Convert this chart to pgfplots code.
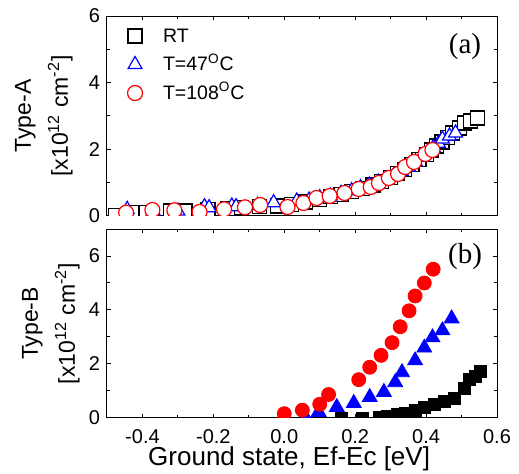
\documentclass[border=0pt]{standalone}
\usepackage{fontspec}
\setmainfont{Liberation Sans}
\newfontfamily\timesfont{Liberation Serif}
\usepackage{pgfplots}
\pgfplotsset{compat=1.18}

\begin{document}
\begin{tikzpicture}
\useasboundingbox (0,0) rectangle (259.5pt,-237pt);
\pgfplotsset{
  common/.style={
    scale only axis, width=195pt,
    xmin=-0.5, xmax=0.6,
    xtick={-0.4,-0.2,0,0.2,0.4,0.6},
    minor xtick={-0.3,-0.1,0.1,0.3,0.5},
    ytick={0,2,4,6}, minor ytick={1,3,5},
    tick align=inside, major tick length=2.2pt, minor tick length=1.3pt,
    axis line style={line width=0.5pt},
    every tick/.append style={black, line width=0.5pt},
    /pgf/number format/assume math mode=true,
    tick label style={font=\fontsize{10}{12}\selectfont},
    clip marker paths=true,
    ylabel style={anchor=south, inner sep=0pt, align=center,
      font=\fontsize{11.5}{18.5}\selectfont},
  },
}
% ---------------- top panel ----------------
\begin{axis}[common,
  at={(53.5pt,-108pt)}, anchor=south west, height=100pt,
  ymin=0, ymax=6,
  xticklabel=\empty,
  ylabel={Type-A\\{[}x10\textsuperscript{12} cm\textsuperscript{-2}{]}},
  ylabel style={at={(axis description cs:-0.087,0.5)}},
  legend cell align=left,
  legend image code/.code={\path[draw=none, fill=none] (0pt,0pt) -- (21pt,0pt);\draw[#1] plot coordinates {(7pt,0pt)};},
  legend style={draw=none, fill=none, inner sep=0pt, outer sep=0pt,
    at={(axis description cs:0.036,0.95)}, anchor=north west,
    row sep=4.25pt, column sep=0pt,
    nodes={inner sep=0pt, text height=8pt, text depth=2pt},
    font=\fontsize{9.75}{11}\selectfont},
]
\addplot[only marks, mark=square*, mark size=3.5pt, mark options={draw=black, fill=white, line width=0.6pt}] coordinates {
(-0.477,0.02) (-0.425,0.10) (-0.39,0.10) (-0.32,0.15) (-0.28,0.15) (-0.215,0.20)
(-0.16,0.22) (-0.12,0.25) (-0.07,0.28) (-0.02,0.30) (0.02,0.35) (0.06,0.42)
(0.10,0.50) (0.13,0.58) (0.16,0.65) (0.19,0.74) (0.22,0.83) (0.25,0.93)
(0.275,1.04) (0.30,1.15) (0.32,1.28) (0.34,1.40) (0.36,1.55) (0.38,1.70)
(0.40,1.85) (0.415,1.98) (0.43,2.10) (0.445,2.22) (0.46,2.35) (0.474,2.49)
(0.494,2.64) (0.509,2.79) (0.526,2.85) (0.545,2.94)
};
\addlegendentry{RT}
\addplot[only marks, mark=triangle*, mark size=4pt, mark options={draw=blue, fill=white, line width=0.6pt}] coordinates {
(-0.443,0.20) (-0.37,0.15) (-0.30,0.15) (-0.225,0.28) (-0.212,0.25) (-0.148,0.30)
(-0.136,0.28) (-0.075,0.32) (-0.03,0.40) (0.035,0.45) (0.07,0.48) (0.10,0.55)
(0.13,0.60) (0.16,0.68) (0.19,0.76) (0.215,0.85) (0.24,0.93) (0.265,1.02)
(0.29,1.12) (0.31,1.22) (0.33,1.34) (0.35,1.47) (0.37,1.62) (0.39,1.78)
(0.405,1.92) (0.42,2.05) (0.435,2.18) (0.446,2.31) (0.466,2.40) (0.483,2.49)
};
\addlegendentry{T=47\textsuperscript{O}C}
\addplot[only marks, mark=*, mark size=3.75pt, mark options={draw=red, fill=white, line width=0.6pt}] coordinates {
(-0.446,0.10) (-0.372,0.18) (-0.31,0.17) (-0.239,0.12) (-0.17,0.20) (-0.111,0.26)
(-0.068,0.33) (0.009,0.27) (0.054,0.39) (0.091,0.54) (0.128,0.60) (0.170,0.69)
(0.210,0.81) (0.244,0.87) (0.267,0.99) (0.295,1.14) (0.321,1.26) (0.341,1.47)
(0.366,1.62) (0.398,1.86) (0.418,1.98)
};
\addlegendentry{T=108\textsuperscript{O}C}
\node[font=\timesfont\fontsize{14.5}{16}\selectfont, inner sep=0pt] at (axis description cs:0.918,0.845) {(a)};
\end{axis}
% ---------------- bottom panel ----------------
\begin{axis}[common,
  at={(53.5pt,-209pt)}, anchor=south west, height=94.5pt,
  ymin=0, ymax=7,
  xticklabel style={/pgf/number format/fixed, /pgf/number format/fixed zerofill, /pgf/number format/precision=1, yshift=-2pt},
  xlabel={Ground state, Ef-Ec [eV]},
  xlabel style={at={(axis description cs:0.467,-0.249)}, anchor=base, inner sep=0pt,
    font=\fontsize{13}{15}\selectfont},
  ylabel={Type-B\\{[}x10\textsuperscript{12} cm\textsuperscript{-2}{]}},
  ylabel style={at={(axis description cs:-0.069,0.5)}},
]
\addplot[only marks, mark=square*, mark size=3pt, mark options={draw=black, fill=black}] coordinates {
(0.162,0.0) (0.219,0.0) (0.267,0.04) (0.290,0.07) (0.318,0.15) (0.341,0.18)
(0.369,0.29) (0.395,0.40) (0.423,0.51) (0.452,0.62) (0.480,0.74) (0.508,1.10)
(0.523,1.43) (0.540,1.55) (0.553,1.72)
};
\addplot[only marks, mark=triangle*, mark size=4.3pt, mark options={draw=blue, fill=blue}] coordinates {
(0.06,0.02) (0.097,0.22) (0.148,0.40) (0.196,0.55) (0.241,0.77) (0.281,0.96)
(0.313,1.32) (0.332,1.69) (0.369,2.13) (0.395,2.60) (0.418,2.98) (0.446,3.24)
(0.472,3.68)
};
\addplot[only marks, mark=*, mark size=3.5pt, mark options={draw=red, fill=red}] coordinates {
(0.0,0.16) (0.051,0.29) (0.10,0.51) (0.125,0.87) (0.21,1.42) (0.241,1.88)
(0.273,2.32) (0.304,2.79) (0.327,3.38) (0.352,3.97) (0.369,4.52) (0.395,5.00)
(0.420,5.51)
};
\node[font=\timesfont\fontsize{14.5}{16}\selectfont, inner sep=0pt] at (axis description cs:0.918,0.857) {(b)};
\end{axis}
\end{tikzpicture}
\end{document}
